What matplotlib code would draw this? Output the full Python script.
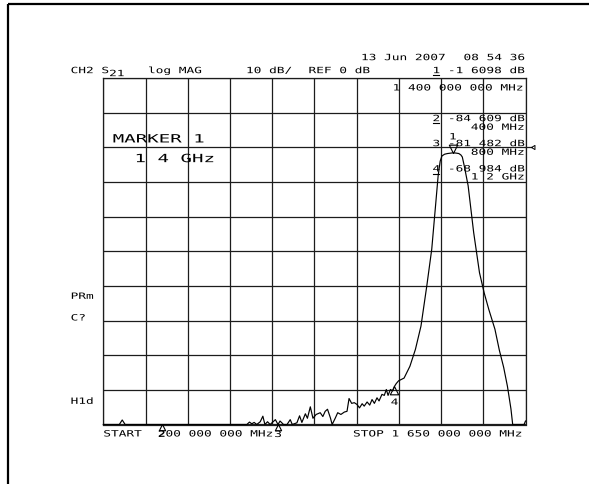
import numpy as np
import matplotlib
matplotlib.use("Agg")
import matplotlib.pyplot as plt
from matplotlib.patheffects import AbstractPathEffect
from matplotlib.transforms import Affine2D, blended_transform_factory
from matplotlib.path import Path
from matplotlib.lines import Line2D

# ---------------------------------------------------------------- data
# CH2 S21 transmission of a band-pass filter, frequency in MHz, level in dB
freq_mhz = [
    200, 230, 255, 265, 275, 320, 400, 480, 560, 640, 693,
    702, 710, 718, 727, 739, 748, 755, 764, 773, 782, 791, 800,
    807, 819, 831, 842, 849, 865, 874, 882, 894, 901, 911, 920,
    931, 945, 954, 962, 970, 980, 986, 997, 1005, 1016, 1028,
    1037, 1044, 1053, 1062, 1071, 1080, 1089, 1096, 1106, 1115,
    1123, 1131, 1140, 1147, 1157, 1165, 1172, 1178, 1186, 1194,
    1200, 1206, 1214, 1233, 1253, 1272, 1291, 1311, 1328, 1341,
    1350, 1357, 1363, 1372, 1382, 1400, 1410, 1421, 1428, 1433,
    1440, 1453, 1472, 1492, 1508, 1524, 1545, 1560, 1575, 1588,
    1600, 1606, 1615, 1630, 1645, 1650,
]
s21_db = [
    -86.0, -84.0, -82.0, -78.7, -83.0, -85.0, -84.609, -86.0, -85.0, -83.0, -80.5,
    -79.3, -79.8, -79.4, -80.4, -79.2, -77.6, -80.5, -79.2, -80.3, -79.3, -78.6, -81.482,
    -79.0, -80.6, -80.4, -78.6, -80.2, -79.5, -77.5, -79.4, -76.9, -78.2, -74.9, -78.2,
    -77.1, -76.6, -77.7, -76.2, -75.6, -78.1, -80.0, -78.1, -76.6, -77.1, -76.4,
    -76.2, -72.5, -73.9, -73.7, -74.2, -75.2, -74.0, -74.7, -73.5, -74.4,
    -72.8, -73.9, -72.3, -73.2, -71.3, -71.6, -69.9, -71.6, -69.9, -70.3,
    -68.984, -68.2, -67.4, -66.6, -63.2, -58.3, -51.6, -40.0, -29.4, -16.9,
    -8.2, -4.0, -2.5, -2.0, -1.8, -1.6098, -1.65, -1.8, -2.2, -2.8,
    -5.5, -11.1, -24.6, -36.2, -42.0, -46.8, -52.5, -58.5, -63.5, -69.0,
    -75.5, -80.5, -86.0, -88.0, -84.0, -79.0,
]

# markers: id, stimulus (MHz), response (dB)
marker_ids = ["1", "2", "3", "4"]
marker_freq = [1400, 400, 800, 1200]
marker_db = [-1.6098, -84.609, -81.482, -68.984]

start_mhz, stop_mhz = 200, 1650
ref_db, scale_db, ref_pos = 0, 10, 8          # reference line on the 8th division
top_db = ref_db + (10 - ref_pos) * scale_db
bottom_db = ref_db - ref_pos * scale_db

# ---------------------------------------------------------------- figure
W, H, DPI = 589, 485, 100
fig = plt.figure(figsize=(W / DPI, H / DPI), dpi=DPI)
fig.patch.set_facecolor("white")


class Widen(AbstractPathEffect):
    """Stretch glyphs horizontally, like the wide plotter font."""

    def __init__(self, sx, anchor="left"):
        super().__init__()
        self._sx = sx
        self._anchor = anchor

    def draw_path(self, renderer, gc, tpath, affine, rgbFace=None):
        x0 = 0.0
        if self._anchor == "center" and len(tpath.vertices):
            xs = tpath.vertices[:, 0]
            x0 = 0.5 * (xs.min() + xs.max())
        t = Affine2D().translate(-x0, 0).scale(self._sx, 1.0).translate(x0, 0) + affine
        renderer.draw_path(gc, tpath, t, rgbFace)


MONO = "DejaVu Sans Mono"
CAP = 6.3
PITCH = 7.7


def font_for(cap, pitch):
    em_px = cap / 0.729
    return em_px * 72 / DPI, pitch / (0.602 * em_px)


def hp_text(x, y, s, cap=CAP, pitch=PITCH):
    """Plotter text; x = left edge, y = middle of the capitals (pixels from top)."""
    size, sx = font_for(cap, pitch)
    fig.text(x / W, 1 - (y + cap / 2) / H, s, fontsize=size, family=MONO,
             ha="left", va="baseline", color="black",
             path_effects=[Widen(sx)])


def underline(x, y, n=1, cap=CAP, pitch=PITCH):
    yy = 1 - (y + cap / 2 + 2.2) / H
    fig.add_artist(Line2D([x / W, (x + n * pitch - 1.5) / W], [yy, yy],
                          color="black", lw=0.8))


# outer frame of the plot page
frame_kw = dict(color="black", lw=1.6, solid_capstyle="butt")
fig.add_artist(Line2D([8 / W, 8 / W], [1 - 5 / H, 0], **frame_kw))
fig.add_artist(Line2D([8 / W, 1.0], [1 - 5 / H, 1 - 5 / H], **frame_kw))

# graticule
gx0, gx1, gy0, gy1 = 103.3, 525.5, 79.0, 425.5
ax = fig.add_axes([gx0 / W, 1 - gy1 / H, (gx1 - gx0) / W, (gy1 - gy0) / H])
ax.set_xlim(start_mhz, stop_mhz)
ax.set_ylim(bottom_db, top_db)
ax.set_xticks(np.linspace(start_mhz, stop_mhz, 11))
ax.set_yticks(np.arange(bottom_db, top_db + 1, scale_db))
ax.tick_params(length=0, labelbottom=False, labelleft=False)
ax.grid(True, color="#1c1c1c", lw=0.9)
for sp in ax.spines.values():
    sp.set_color("#1c1c1c")
    sp.set_linewidth(0.9)
ax.set_facecolor("white")

# trace (limited to the display window, as the analyzer draws it)
trace = np.clip(np.asarray(s21_db, float), bottom_db, top_db)
ax.plot(freq_mhz, trace, color="black", lw=0.85, clip_on=False,
        solid_joinstyle="round", zorder=3)

# reference-level pointer at the right edge
blend = blended_transform_factory(ax.transAxes, ax.transData)
ax.plot([1.0, 1.012], [ref_db, ref_db], color="#1c1c1c", lw=0.9,
        transform=blend, clip_on=False)
ptr = Path([(0.0, 0.0), (1.0, 0.6), (1.0, -0.6), (0.0, 0.0)])
ax.plot([1.012], [ref_db], marker=ptr, ms=5, mfc="none", mec="black",
        mew=0.7, transform=blend, clip_on=False)

# marker symbols
tri_up = Path([(0.0, 0.0), (-0.5, -1.0), (0.5, -1.0), (0.0, 0.0)])
tri_dn = Path([(0.0, 0.0), (-0.5, 1.0), (0.5, 1.0), (0.0, 0.0)])
dsize, dsx = font_for(CAP, PITCH)
for i, (mid, f, v) in enumerate(zip(marker_ids, marker_freq, marker_db)):
    shown = min(max(v, bottom_db), top_db)
    if i == 0:
        ax.plot([f], [shown], marker=tri_dn, ms=12, mfc="none", mec="black",
                mew=0.8, ls="none", clip_on=False, zorder=4)
        dy = 16
    else:
        floor = v < bottom_db
        ax.plot([f], [shown], marker=tri_up, ms=9 if floor else 12,
                mfc="none", mec="black", mew=0.8, ls="none",
                clip_on=False, zorder=4)
        dy = -10 if floor else -16
    ax.annotate(mid, (f, shown), xytext=(0, dy), textcoords="offset pixels",
                ha="center", va="center", fontsize=dsize, family=MONO,
                color="black", annotation_clip=False,
                path_effects=[Widen(dsx, "center")])

# header
hp_text(361.0, 58.0, "13 Jun 2007")
hp_text(463.5, 58.0, "08 54 36")
hp_text(70.6, 71.0, "CH2")
hp_text(101.4, 71.0, "S")
hp_text(109.1, 74.0, "21")
hp_text(148.0, 71.0, "log MAG")
hp_text(246.0, 71.0, "10 dB/")
hp_text(308.5, 71.0, "REF 0 dB")
hp_text(432.5, 71.0, "1 -1 6098 dB")
underline(432.5, 71.0)

# marker table
hp_text(392.6, 88.3, "1 400 000 000 MHz")
hp_text(432.5, 119.0, "2 -84 609 dB")
underline(432.5, 119.0)
hp_text(470.8, 127.7, "400 MHz")
hp_text(432.5, 144.0, "3 -81 482 dB")
hp_text(470.8, 152.7, "800 MHz")
hp_text(432.5, 169.3, "4 -68 984 dB")
underline(432.5, 169.3)
hp_text(470.8, 177.3, "1 2 GHz")

# active marker readout
hp_text(112.7, 139.3, "MARKER 1", cap=8.3, pitch=11.5)
hp_text(134.5, 159.0, "1 4 GHz", cap=8.3, pitch=11.5)

# status annotations
hp_text(70.6, 296.7, "PRm")
hp_text(70.6, 318.3, "C?")
hp_text(70.6, 401.7, "H1d")

# stimulus range
hp_text(103.3, 434.3, "START")
hp_text(157.8, 434.3, "200 000 000 MHz")
hp_text(353.0, 434.3, "STOP 1 650 000 000 MHz")

fig.savefig("out.png", dpi=DPI, facecolor="white")
